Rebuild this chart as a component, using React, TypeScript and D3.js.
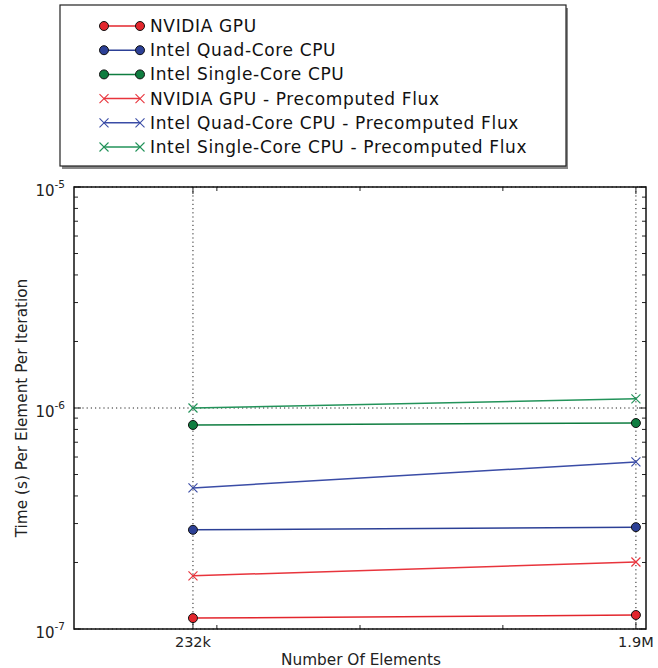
import React from "react";
import * as d3 from "d3";

// problem sizes (number of elements) and their tick labels
const sizes = [232000, 1900000];
const sizeLabels = ["232k", "1.9M"];
const minorSizes = [322000, 861000, 1399000];

// time (s) per element per iteration
const gpu = [1.12e-7, 1.157e-7];
const quadCore = [2.81e-7, 2.89e-7];
const singleCore = [8.38e-7, 8.55e-7];
const gpuFlux = [1.74e-7, 2.01e-7];
const quadCoreFlux = [4.35e-7, 5.7e-7];
const singleCoreFlux = [1.0e-6, 1.1e-6];

const yMajor = [1e-7, 1e-6, 1e-5];
const yExp = ["-7", "-6", "-5"];

const seriesList = [
  { name: "NVIDIA GPU", values: gpu, color: "#e3262d", marker: "dot" },
  { name: "Intel Quad-Core CPU", values: quadCore, color: "#2c4096", marker: "dot" },
  { name: "Intel Single-Core CPU", values: singleCore, color: "#0f7d40", marker: "dot" },
  { name: "NVIDIA GPU - Precomputed Flux", values: gpuFlux, color: "#e8343c", marker: "x" },
  { name: "Intel Quad-Core CPU - Precomputed Flux", values: quadCoreFlux, color: "#3a4ca6", marker: "x" },
  { name: "Intel Single-Core CPU - Precomputed Flux", values: singleCoreFlux, color: "#23935a", marker: "x" },
];

const W = 658;
const H = 668;
const plot = { left: 74, right: 646, top: 187, bottom: 629 };
const font = "'DejaVu Sans', Verdana, sans-serif";

function Marker({ kind, x, y, color }: { kind: string; x: number; y: number; color: string }) {
  if (kind === "dot") {
    return <circle cx={x} cy={y} r={4.5} fill={color} stroke="#111" strokeWidth={1} />;
  }
  const s = 4.5;
  return (
    <g stroke={color} strokeWidth={1.1}>
      <line x1={x - s} y1={y - s} x2={x + s} y2={y + s} />
      <line x1={x - s} y1={y + s} x2={x + s} y2={y - s} />
    </g>
  );
}

export default function App() {
  const x = d3.scaleLinear().domain([-216000, 1938000]).range([plot.left, plot.right]);
  const y = d3.scaleLog().domain([1e-7, 1e-5]).range([plot.bottom, plot.top]);

  const line = d3
    .line<number>()
    .x((_, i) => x(sizes[i]))
    .y((d) => y(d));

  // log minor ticks 2..9 for each decade
  const yMinor: number[] = [];
  [1e-7, 1e-6].forEach((base) => {
    for (let k = 2; k <= 9; k++) yMinor.push(base * k);
  });

  const legend = { x: 60, y: 5, w: 506, h: 161 };

  return (
    <svg
      width={W}
      height={H}
      style={{ position: "absolute", left: 0, top: 0, background: "#fff" }}
      fontFamily={font}
    >
      {/* legend */}
      <rect x={legend.x + 2} y={legend.y + 3} width={legend.w} height={legend.h} fill="#888" />
      <rect x={legend.x} y={legend.y} width={legend.w} height={legend.h} fill="#fff" stroke="#222" strokeWidth={1.2} />
      {seriesList.map((s, i) => {
        const ly = legend.y + 21 + i * 24.2;
        return (
          <g key={s.name}>
            <line x1={104} x2={140} y1={ly} y2={ly} stroke={s.color} strokeWidth={1.5} />
            <Marker kind={s.marker} x={104} y={ly} color={s.color} />
            <Marker kind={s.marker} x={140} y={ly} color={s.color} />
            <text x={150} y={ly + 6} fontSize={17} letterSpacing={0.65} fill="#111">
              {s.name}
            </text>
          </g>
        );
      })}

      {/* grid */}
      <g stroke="#222" strokeWidth={1} strokeDasharray="1.2,3">
        {sizes.map((v) => (
          <line key={v} x1={x(v)} x2={x(v)} y1={plot.top} y2={plot.bottom} />
        ))}
        {yMajor.map((v) => (
          <line key={v} x1={plot.left} x2={plot.right} y1={y(v)} y2={y(v)} />
        ))}
      </g>

      {/* ticks (inward, both sides) */}
      <g stroke="#222" strokeWidth={1}>
        {sizes.map((v) => (
          <g key={v}>
            <line x1={x(v)} x2={x(v)} y1={plot.bottom} y2={plot.bottom - 7} />
            <line x1={x(v)} x2={x(v)} y1={plot.top} y2={plot.top + 7} />
          </g>
        ))}
        {minorSizes.map((v) => (
          <g key={v}>
            <line x1={x(v)} x2={x(v)} y1={plot.bottom} y2={plot.bottom - 4} />
            <line x1={x(v)} x2={x(v)} y1={plot.top} y2={plot.top + 4} />
          </g>
        ))}
        {yMinor.map((v) => (
          <g key={v}>
            <line x1={plot.left} x2={plot.left + 4} y1={y(v)} y2={y(v)} />
            <line x1={plot.right} x2={plot.right - 4} y1={y(v)} y2={y(v)} />
          </g>
        ))}
        {yMajor.map((v) => (
          <g key={v}>
            <line x1={plot.left} x2={plot.left + 7} y1={y(v)} y2={y(v)} />
            <line x1={plot.right} x2={plot.right - 7} y1={y(v)} y2={y(v)} />
          </g>
        ))}
      </g>

      {/* series */}
      {seriesList.map((s) => (
        <g key={s.name}>
          <path d={line(s.values) || ""} fill="none" stroke={s.color} strokeWidth={1.5} />
          {s.values.map((v, i) => (
            <Marker key={i} kind={s.marker} x={x(sizes[i])} y={y(v)} color={s.color} />
          ))}
        </g>
      ))}

      {/* frame */}
      <rect
        x={plot.left}
        y={plot.top}
        width={plot.right - plot.left}
        height={plot.bottom - plot.top}
        fill="none"
        stroke="#111"
        strokeWidth={1.5}
      />

      {/* tick labels */}
      {sizes.map((v, i) => (
        <text key={v} x={x(v)} y={plot.bottom + 18} textAnchor="middle" fontSize={14.5} fill="#222">
          {sizeLabels[i]}
        </text>
      ))}
      {yMajor.map((v, i) => (
        <text key={v} x={65} y={y(v) + 9} textAnchor="end" fontSize={15} fill="#222">
          10
          <tspan dy={-8} fontSize={10.5}>
            {yExp[i]}
          </tspan>
        </text>
      ))}

      {/* axis titles */}
      <text x={361} y={665} textAnchor="middle" fontSize={15.3} fill="#222">
        Number Of Elements
      </text>
      <text
        transform={`translate(27,${(plot.top + plot.bottom) / 2}) rotate(-90)`}
        textAnchor="middle"
        fontSize={15.3}
        fill="#222"
      >
        Time (s) Per Element Per Iteration
      </text>
    </svg>
  );
}
